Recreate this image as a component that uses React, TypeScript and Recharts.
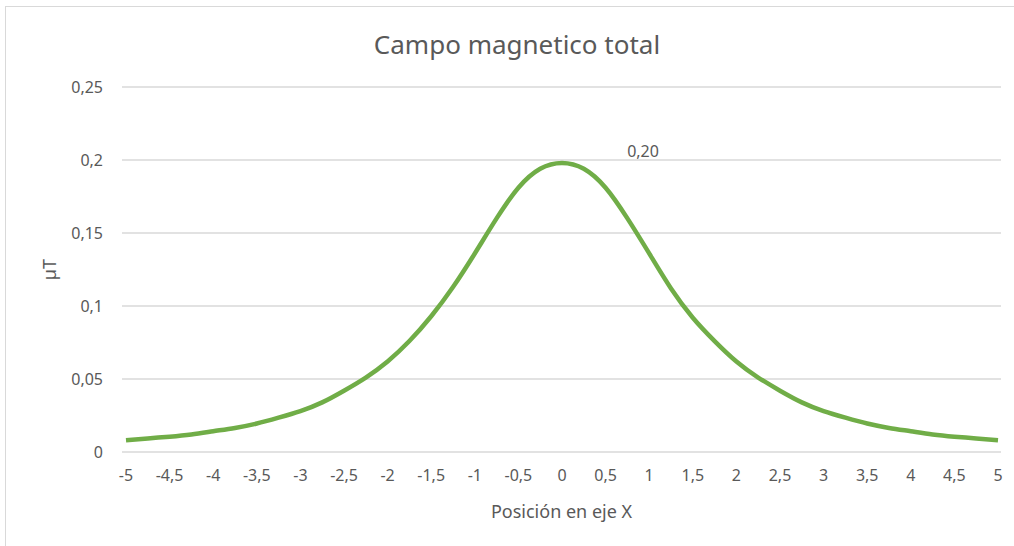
import { LineChart, Line, XAxis, YAxis, CartesianGrid } from 'recharts';

const positions = [
  -5, -4.75, -4.5, -4.25, -4, -3.75, -3.5, -3.25, -3, -2.75, -2.5, -2.25, -2, -1.75, -1.5, -1.25, -1, -0.75, -0.5, -0.25,
  0, 0.25, 0.5, 0.75, 1, 1.25, 1.5, 1.75, 2, 2.25, 2.5, 2.75, 3, 3.25, 3.5, 3.75, 4, 4.25, 4.5, 4.75, 5,
];
const campo = [
  0.008, 0.0093, 0.0105, 0.012, 0.0142, 0.0165, 0.0195, 0.0235, 0.028, 0.034, 0.042, 0.051, 0.062, 0.076, 0.093, 0.113, 0.136, 0.16, 0.181, 0.194,
  0.198, 0.194, 0.181, 0.16, 0.136, 0.112, 0.092, 0.076, 0.062, 0.051, 0.042, 0.034, 0.028, 0.0235, 0.0195, 0.0165, 0.0142, 0.012, 0.0105, 0.0093, 0.008,
];
const xTicks = [-5, -4.5, -4, -3.5, -3, -2.5, -2, -1.5, -1, -0.5, 0, 0.5, 1, 1.5, 2, 2.5, 3, 3.5, 4, 4.5, 5];
const yTicks = [0, 0.05, 0.1, 0.15, 0.2, 0.25];

const chartData = positions.map((x, i) => ({ x, b: campo[i] }));
const peakIndex = campo.indexOf(Math.max(...campo));

const fmt = (v: number) => String(v).replace('.', ',');
const font = '"Noto Sans", sans-serif';
const grey = '#595959';

function PeakLabel(props: any) {
  const { x, y, index, value } = props;
  if (index !== peakIndex) return null;
  return (
    <text x={x + 81} y={y - 6} textAnchor="middle" fill={grey} fontSize={16} fontFamily={font}>
      {value.toFixed(2).replace('.', ',')}
    </text>
  );
}

export default function App() {
  return (
    <div style={{ position: 'absolute', left: 0, top: 0, width: 1014, height: 546, background: '#fff', fontFamily: font }}>
      <div
        style={{
          position: 'absolute',
          left: 5,
          top: 6,
          width: 1014,
          height: 546,
          border: '1px solid #d9d9d9',
          boxSizing: 'border-box',
        }}
      />
      <div
        style={{
          position: 'absolute',
          left: 0,
          top: 26,
          width: 1034,
          textAlign: 'center',
          fontSize: 26,
          color: grey,
        }}
      >
        Campo magnetico total
      </div>
      <div style={{ position: 'absolute', left: 0, top: 0 }}>
        <LineChart width={1014} height={546} data={chartData} margin={{ top: 87, right: 13, bottom: 0, left: 0 }}>
          <CartesianGrid vertical={false} stroke="#d9d9d9" strokeWidth={1.5} />
          <XAxis
            dataKey="x"
            type="number"
            domain={[-5, 5]}
            ticks={xTicks}
            tickFormatter={fmt}
            axisLine={false}
            tickLine={false}
            tickSize={0}
            tickMargin={18}
            height={94}
            padding={{ left: 4, right: 3 }}
            tick={{ fill: grey, fontSize: 16, fontFamily: font }}
            interval={0}
            label={{ value: 'Posición en eje X', position: 'insideTop', offset: 53, fill: grey, fontSize: 18, fontFamily: font }}
          />
          <YAxis
            type="number"
            domain={[0, 0.25]}
            ticks={yTicks}
            tickFormatter={fmt}
            axisLine={false}
            tickLine={false}
            tickSize={0}
            tickMargin={19}
            width={122}
            tick={{ fill: grey, fontSize: 16, fontFamily: font }}
            label={{
              value: 'µT',
              angle: -90,
              position: 'insideLeft',
              offset: 50,
              textAnchor: 'middle',
              fill: grey,
              fontSize: 18,
              fontFamily: font,
            }}
          />
          <Line
            type="natural"
            dataKey="b"
            stroke="#70ad47"
            strokeWidth={4.5}
            dot={false}
            isAnimationActive={false}
            label={<PeakLabel />}
          />
        </LineChart>
      </div>
    </div>
  );
}
